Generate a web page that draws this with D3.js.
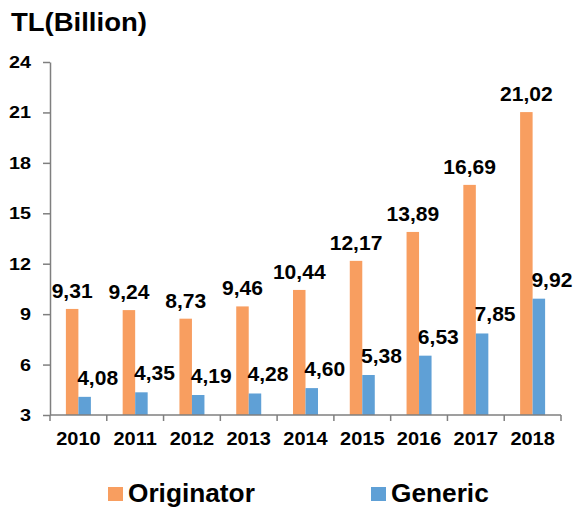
<!DOCTYPE html>
<html>
<head>
<meta charset="utf-8">
<script src="https://cdn.jsdelivr.net/npm/d3@7"></script>
<style>
  body { margin: 0; background: #fff; }
  text { font-family: "Liberation Sans", Arial, sans-serif; font-weight: bold; fill: #000; }
</style>
</head>
<body>
<script>
var years = ["2010", "2011", "2012", "2013", "2014", "2015", "2016", "2017", "2018"];
var seriesNames = ["Originator", "Generic"];
var originator = [9.31, 9.24, 8.73, 9.46, 10.44, 12.17, 13.89, 16.69, 21.02];
var generic = [4.08, 4.35, 4.19, 4.28, 4.60, 5.38, 6.53, 7.85, 9.92];
var yTicks = [3, 6, 9, 12, 15, 18, 21, 24];

const W = 582, H = 509;
const COLORS = ["#F89E60", "#5FA0D6"];
const BAR_W = 12.5;
var margin = { left: 50, right: 561, top: 62, bottom: 415 };

var svg = d3.select("body").append("svg")
    .attr("width", W)
    .attr("height", H);

var x = d3.scaleBand()
    .domain(years)
    .range([margin.left, margin.right]);

var xs = d3.scaleBand()
    .domain(seriesNames)
    .range([x.bandwidth() / 2 - BAR_W, x.bandwidth() / 2 + BAR_W]);

var y = d3.scaleLinear()
    .domain([3, 24])
    .range([margin.bottom, margin.top]);

var fmt = function(v) { return v.toFixed(2).replace(".", ","); };

// title
svg.append("text")
    .attr("transform", "translate(11,31) scale(1.1,1)")
    .style("font-size", "25px")
    .text("TL(Billion)");

// bars + value labels
var series = [originator, generic];
var labelDx = [0, 13];
var labelGap = [11, 12];

series.forEach(function(vals, s) {
    var g = svg.append("g");
    g.selectAll("rect")
        .data(vals)
        .enter()
        .append("rect")
        .attr("x", function(d, i) { return x(years[i]) + xs(seriesNames[s]); })
        .attr("y", function(d) { return y(d); })
        .attr("width", xs.bandwidth())
        .attr("height", function(d) { return y(3) - y(d); })
        .attr("fill", COLORS[s]);

    g.selectAll("text")
        .data(vals)
        .enter()
        .append("text")
        .attr("text-anchor", "middle")
        .attr("transform", function(d, i) {
            var cx = x(years[i]) + xs(seriesNames[s]) + xs.bandwidth() / 2 + labelDx[s];
            return "translate(" + cx + "," + (y(d) - labelGap[s]) + ") scale(1.08,1)";
        })
        .style("font-size", "19.5px")
        .text(fmt);
});

// y axis
var axisY = d3.axisLeft(y)
    .tickValues(yTicks)
    .tickSize(7)
    .tickSizeOuter(0)
    .tickFormat("");

var gy = svg.append("g")
    .attr("transform", "translate(" + margin.left + ",0)")
    .call(axisY);
gy.selectAll("path, line").attr("stroke", "#7f7f7f").attr("stroke-width", 1.5);

svg.append("g")
    .selectAll("text")
    .data(yTicks)
    .enter()
    .append("text")
    .attr("text-anchor", "end")
    .attr("transform", function(d) { return "translate(31," + (y(d) + 6) + ") scale(1.2,1)"; })
    .style("font-size", "16.5px")
    .text(function(d) { return d; });

// x axis
svg.append("line")
    .attr("x1", margin.left).attr("x2", margin.right)
    .attr("y1", y(3)).attr("y2", y(3))
    .attr("stroke", "#7f7f7f").attr("stroke-width", 1.5);

svg.append("g")
    .selectAll("line")
    .data(years.concat(["end"]))
    .enter()
    .append("line")
    .attr("x1", function(d, i) { return margin.left + i * x.step(); })
    .attr("x2", function(d, i) { return margin.left + i * x.step(); })
    .attr("y1", y(3)).attr("y2", y(3) + 6)
    .attr("stroke", "#7f7f7f").attr("stroke-width", 1.5);

svg.append("g")
    .selectAll("text")
    .data(years)
    .enter()
    .append("text")
    .attr("text-anchor", "middle")
    .attr("transform", function(d) { return "translate(" + (x(d) + x.bandwidth() / 2) + ",445) scale(1.08,1)"; })
    .style("font-size", "18.5px")
    .text(function(d) { return d; });

// legend
var legendX = [108, 371];
var legend = svg.append("g")
    .selectAll("g")
    .data(seriesNames)
    .enter()
    .append("g")
    .attr("transform", function(d, i) { return "translate(" + legendX[i] + ",487)"; });

legend.append("rect")
    .attr("width", 15)
    .attr("height", 14)
    .attr("fill", function(d, i) { return COLORS[i]; });

legend.append("text")
    .attr("transform", "translate(20,15) scale(1.05,1)")
    .style("font-size", "25px")
    .text(function(d) { return d; });
</script>
</body>
</html>
